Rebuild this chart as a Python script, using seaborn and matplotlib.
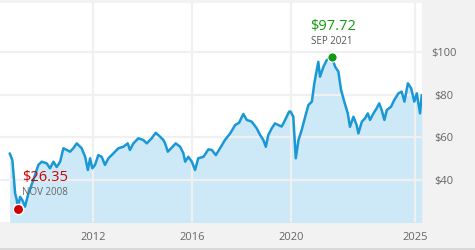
import matplotlib
matplotlib.use("Agg")
import matplotlib.pyplot as plt
import seaborn as sns
import pandas as pd
from matplotlib.patches import Rectangle

# ---- data (decimal year, price in $) ----
years = [2008.63, 2008.74, 2008.85, 2008.92, 2008.96, 2009.05, 2009.14, 2009.25, 2009.39, 2009.59,
         2009.79, 2009.93, 2010.13, 2010.26, 2010.40, 2010.53, 2010.67, 2010.80, 2010.94, 2011.07,
         2011.20, 2011.34, 2011.41, 2011.54, 2011.68, 2011.79, 2011.88, 2011.97, 2012.08, 2012.21,
         2012.35, 2012.48, 2012.62, 2012.82, 2013.02, 2013.22, 2013.40, 2013.49, 2013.63, 2013.83,
         2014.03, 2014.17, 2014.30, 2014.37, 2014.53, 2014.71, 2014.84, 2014.91, 2015.02, 2015.15,
         2015.34, 2015.52, 2015.65, 2015.72, 2015.85, 2015.99, 2016.12, 2016.25, 2016.46, 2016.66,
         2016.80, 2016.96, 2017.13, 2017.33, 2017.54, 2017.74, 2017.90, 2018.07, 2018.21, 2018.41,
         2018.61, 2018.75, 2018.88, 2018.98, 2019.08, 2019.22, 2019.35, 2019.49, 2019.62, 2019.76,
         2019.92, 2019.98, 2020.09, 2020.19, 2020.30, 2020.43, 2020.57, 2020.70, 2020.84, 2020.94,
         2021.10, 2021.17, 2021.31, 2021.44, 2021.64, 2021.78, 2021.91, 2022.02, 2022.15, 2022.29,
         2022.38, 2022.52, 2022.65, 2022.72, 2022.86, 2022.99, 2023.10, 2023.19, 2023.33, 2023.46,
         2023.56, 2023.66, 2023.77, 2023.87, 2024.04, 2024.17, 2024.34, 2024.47, 2024.58, 2024.72,
         2024.85, 2024.98, 2025.08, 2025.21, 2025.28]
prices = [52.4, 49.3, 33.7, 30.5, 26.35, 32.0, 30.5, 27.4, 33.7, 40.0,
          47.0, 48.5, 47.7, 45.4, 48.5, 46.0, 48.5, 54.8, 54.0, 53.2,
          54.8, 57.1, 56.3, 54.8, 50.8, 44.6, 50.1, 45.4, 47.0, 51.6,
          50.8, 47.0, 50.1, 52.4, 54.8, 55.5, 57.1, 54.0, 57.1, 59.5,
          58.7, 57.1, 58.7, 59.5, 62.1, 60.2, 58.7, 57.1, 53.2, 54.8,
          57.1, 55.5, 52.4, 48.5, 50.8, 48.5, 44.6, 50.1, 50.8, 54.3,
          54.0, 51.6, 54.8, 58.7, 61.8, 65.7, 66.8, 70.9, 68.1, 67.3,
          64.2, 61.0, 58.7, 55.5, 61.0, 64.2, 66.5, 65.7, 65.0, 68.1,
          72.0, 72.0, 69.6, 50.1, 58.7, 63.4, 69.6, 75.1, 76.7, 85.3,
          95.4, 88.4, 93.1, 96.2, 97.72, 93.1, 90.8, 82.2, 76.7, 71.2,
          64.9, 69.6, 65.7, 61.8, 67.3, 68.9, 71.2, 68.1, 71.2, 73.6,
          75.9, 72.8, 68.1, 72.8, 74.3, 77.5, 80.6, 81.4, 76.7, 85.3,
          83.0, 76.7, 80.6, 71.2, 79.8]

x_ticks = [2012, 2016, 2020, 2025]
x_labels = ["2012", "2016", "2020", "2025"]
y_ticks = [40, 60, 80, 100]
y_labels = ["$40", "$60", "$80", "$100"]

low_year, low_price, low_label, low_date = 2008.96, 26.35, "$26.35", "NOV 2008"
high_year, high_price, high_label, high_date = 2021.64, 97.72, "$97.72", "SEP 2021"

df = pd.DataFrame({"year": years, "price": prices})

# ---- style ----
sns.set_style("white")
plt.rcParams["font.family"] = ["Open Sans", "DejaVu Sans"]

W, H = 475, 250
fig = plt.figure(figsize=(W / 100, H / 100), dpi=100)
fig.patch.set_facecolor("#f2f2f2")
# darker strip at the very bottom
fig.patches.append(Rectangle((0, 0), 1, 2.5 / H, transform=fig.transFigure,
                             facecolor="#d9d9d9", edgecolor="none", zorder=0))

ax = fig.add_axes([0 / W, (H - 222) / H, 422 / W, (222 - 3) / H])
ax.set_facecolor("white")

line_c = "#1a98d5"
fill_c = "#cde9f7"

ax.fill_between(df["year"], df["price"], 0, color=fill_c, linewidth=0, zorder=1)
sns.lineplot(data=df, x="year", y="price", ax=ax, color=line_c, linewidth=1.8, zorder=3)

ax.set_xlim(2008.24, 2025.29)
ax.set_ylim(20.2, 123)

ax.set_xticks(x_ticks)
ax.set_xticklabels(x_labels)
ax.set_yticks(y_ticks)
ax.set_yticklabels(y_labels)
ax.yaxis.tick_right()
ax.tick_params(axis="x", length=0, pad=7, labelsize=8, labelcolor="#666666")
ax.tick_params(axis="y", length=0, pad=16, labelsize=8, labelcolor="#666666")
for t in ax.get_yticklabels():
    t.set_horizontalalignment("center")

ax.grid(True, color="#f0f0f0", linewidth=1.6)
ax.set_axisbelow("line")
for s in ax.spines.values():
    s.set_visible(False)
ax.set_xlabel("")
ax.set_ylabel("")

# extreme markers
ax.scatter([low_year], [low_price], s=55, color="#cc0000", edgecolor="white",
           linewidth=1.0, zorder=5)
ax.scatter([high_year], [high_price], s=45, color="#119911", edgecolor="white",
           linewidth=0.8, zorder=5)

ax.annotate(low_label, (low_year, low_price), xytext=(4, 31), textcoords="offset pixels",
            ha="left", va="center", fontsize=10.5, color="#cc0000", zorder=6)
ax.annotate(low_date, (low_year, low_price), xytext=(4, 16), textcoords="offset pixels",
            ha="left", va="center", fontsize=7, color="#666666", zorder=6)
ax.annotate(high_label, (high_year, high_price), xytext=(1, 30), textcoords="offset pixels",
            ha="center", va="center", fontsize=10.5, color="#119911", zorder=6)
ax.annotate(high_date, (high_year, high_price), xytext=(0, 15), textcoords="offset pixels",
            ha="center", va="center", fontsize=7, color="#555555", zorder=6)

fig.savefig("out.png", dpi=100, facecolor=fig.get_facecolor())
